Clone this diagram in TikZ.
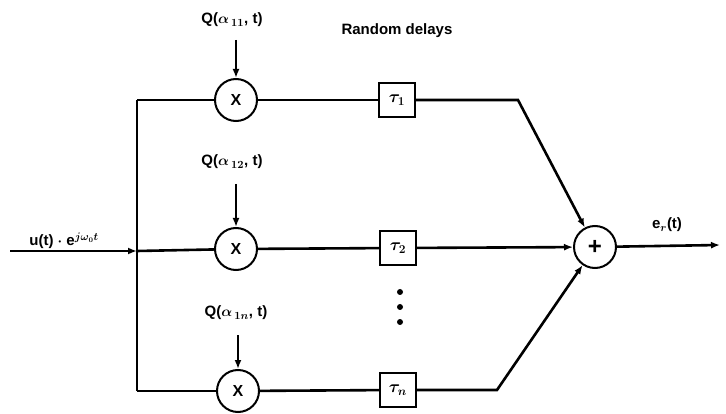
\documentclass[tikz,border=0pt]{standalone}
\usepackage{fontspec}
\setmainfont{Liberation Sans}
\usetikzlibrary{arrows.meta}
\tikzset{every picture/.style={line width=2.6pt}}

\begin{document}
\begin{tikzpicture}[x=1pt,y=1pt,yscale=-1,xscale=1,
  lbl/.style={font=\fontsize{15}{17}\selectfont\bfseries\boldmath, inner sep=1pt},
  mult/.style={draw, circle, line width=2pt, minimum size=42pt, inner sep=0pt, font=\fontsize{16}{18}\selectfont\bfseries},
  delay/.style={draw, line width=2pt, minimum width=36pt, minimum height=34pt, inner sep=0pt, font=\fontsize{17}{19}\selectfont\boldmath},
  sig/.style={-{Latex[length=9pt,width=7pt]}}]
\useasboundingbox (0,0) rectangle (726,414);

% Multipliers, delays and summer
\node[mult] (m1) at (236,100) {X};
\node[mult] (m2) at (236,249) {X};
\node[mult] (m3) at (238,391) {X};
\node[delay] (d1) at (397,100) {$\tau_1$};
\node[delay] (d2) at (398,248) {$\tau_2$};
\node[delay] (d3) at (398,390) {$\tau_n$};
\node[mult, font=\fontsize{24}{26}\selectfont\bfseries] (sum) at (595,247) {+};

% Text Node
\node[lbl] (q1) at (232,20) {Q($\alpha_{\,11}$, t)};
\node[lbl] (q2) at (232,162) {Q($\alpha_{\,12}$, t)};
\node[lbl] (q3) at (236,313) {Q($\alpha_{\,1n}$, t)};
\node[lbl] (rd) at (397,31) {Random delays};
\node[lbl] (uin) at (64,241) {u(t) $\cdot$ e$^{j\omega_0 t}$};
\node[lbl] (er) at (667,225) {e$_r$(t)};

% Points
\coordinate (in) at (10,251);
\coordinate (jn) at (137,251);
\coordinate (jt) at (137,100);
\coordinate (jb) at (137,391);
\coordinate (bt) at (518,100);
\coordinate (bb) at (497,390);
\coordinate (out) at (720,245);
\coordinate (q1s) at (236,40);
\coordinate (q2s) at (236,184);
\coordinate (q3s) at (238,335);

% Lines
\draw[sig] (in) -- (jn);
\draw (jt) -- (jb);
\draw (jt) -- (m1);
\draw (jn) -- (m2);
\draw (jb) -- (m3);
\draw[sig] (q1s) -- (m1);
\draw[sig] (q2s) -- (m2);
\draw[sig] (q3s) -- (m3);
\draw (m1) -- (d1);
\draw (m2) -- (d2);
\draw (m3) -- (d3);
\draw[sig] (d1) -- (bt) -- (sum);
\draw[sig] (d2) -- (sum);
\draw[sig] (d3) -- (bb) -- (sum);
\draw[sig] (sum) -- (out);

% Dots
\foreach \y in {292,307,322}
  \fill (400,\y) circle (3);

\end{tikzpicture}
\end{document}
